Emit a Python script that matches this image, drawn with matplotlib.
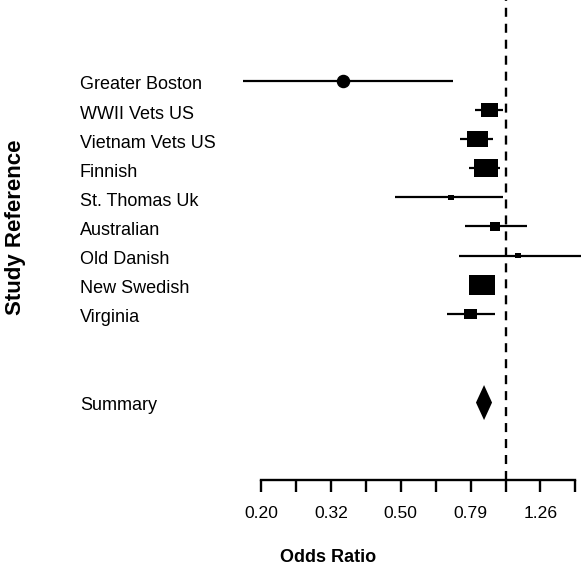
import numpy as np
import matplotlib
matplotlib.use('Agg')
import matplotlib.pyplot as plt
from matplotlib.patches import Rectangle, Polygon
from matplotlib.ticker import NullLocator
from matplotlib.transforms import blended_transform_factory

plt.rcParams['font.family'] = ['Liberation Sans', 'DejaVu Sans']
plt.rcParams['lines.scale_dashes'] = False

# study data (odds ratio with 95% CI, relative weight)
studies = ['Greater Boston', 'WWII Vets US', 'Vietnam Vets US', 'Finnish',
           'St. Thomas Uk', 'Australian', 'Old Danish', 'New Swedish', 'Virginia']
odds = [0.342, 0.900, 0.831, 0.879, 0.698, 0.933, 1.086, 0.856, 0.794]
lower = [0.177, 0.818, 0.741, 0.786, 0.482, 0.766, 0.736, 0.830, 0.680]
upper = [0.707, 0.984, 0.921, 0.964, 0.984, 1.152, 1.660, 0.880, 0.933]
weights = [0.47, 0.69, 0.79, 0.91, 0.22, 0.42, 0.23, 1.00, 0.48]

summary_label = 'Summary'
summary_or = 0.868
summary_lo = 0.823
summary_hi = 0.915

tick_exps = np.arange(-0.7, 0.21, 0.1)


def main():
    fig = plt.figure(figsize=(5.81, 5.68), dpi=100)
    W, H = 581, 568
    ax = fig.add_axes([240 / W, (H - 480) / H, 341 / W, 480 / H])
    ax.set_xscale('log')
    px_per_dec = 349.0
    row_px = 29.1
    ax.set_xlim(10 ** -0.7607, 10 ** 0.2163)
    ax.set_ylim(13.71, -2.78)

    for s in ['top', 'right', 'left']:
        ax.spines[s].set_visible(False)
    ax.spines['bottom'].set_bounds(10 ** -0.7, 10 ** 0.2)
    ax.spines['bottom'].set_linewidth(1.7)

    ticks = 10 ** tick_exps
    ax.set_xticks(ticks)
    ax.set_xticklabels(['%.2f' % t if i % 2 == 0 else '' for i, t in enumerate(ticks)])
    ax.xaxis.set_minor_locator(NullLocator())
    ax.tick_params(axis='x', length=8.6, width=1.7, pad=10, labelsize=12.6)
    ax.set_yticks([])

    ax.axvline(1.0, color='black', lw=1.7, ls=(0, (6.5, 5.0)), zorder=1)

    max_w_px = 25.7
    for i, (name, est, lo, hi, w) in enumerate(zip(studies, odds, lower, upper, weights)):
        ax.plot([lo, hi], [i, i], color='black', lw=1.6, solid_capstyle='butt', zorder=2)
        w_px = w * max_w_px
        if i == 0:
            ax.plot(est, i, 'o', color='black', ms=w_px * 0.72, zorder=3)
        else:
            half = w_px / 2 / px_per_dec
            h = w_px / 1.27 / row_px
            x0 = est * 10 ** (-half)
            x1 = est * 10 ** half
            ax.add_patch(Rectangle((x0, i - h / 2), x1 - x0, h, color='black', lw=0, zorder=3))

    ys = len(studies) + 2
    dh = 17.5 / row_px
    ax.add_patch(Polygon([[summary_lo, ys + 0.05], [summary_or, ys + 0.05 - dh], [summary_hi, ys + 0.05],
                          [summary_or, ys + 0.05 + dh]], closed=True, color='black', lw=0, zorder=3))

    # labels sit a few pixels below the CI lines
    off = 4 / row_px
    trans = blended_transform_factory(fig.transFigure, ax.transData)
    for i, name in enumerate(studies):
        ax.text(80 / W, i + off, name, transform=trans, ha='left', va='center', fontsize=13)
    ax.text(80 / W, ys + off, summary_label, transform=trans, ha='left', va='center', fontsize=13)

    fig.text(15.5 / W, 1 - 227 / H, 'Study Reference', rotation=90, fontsize=16,
             weight='bold', ha='center', va='center')
    fig.text(328 / W, 1 - 558 / H, 'Odds Ratio', fontsize=13, weight='bold',
             ha='center', va='center')

    fig.savefig('out.png', dpi=100)


if __name__ == '__main__':
    main()
